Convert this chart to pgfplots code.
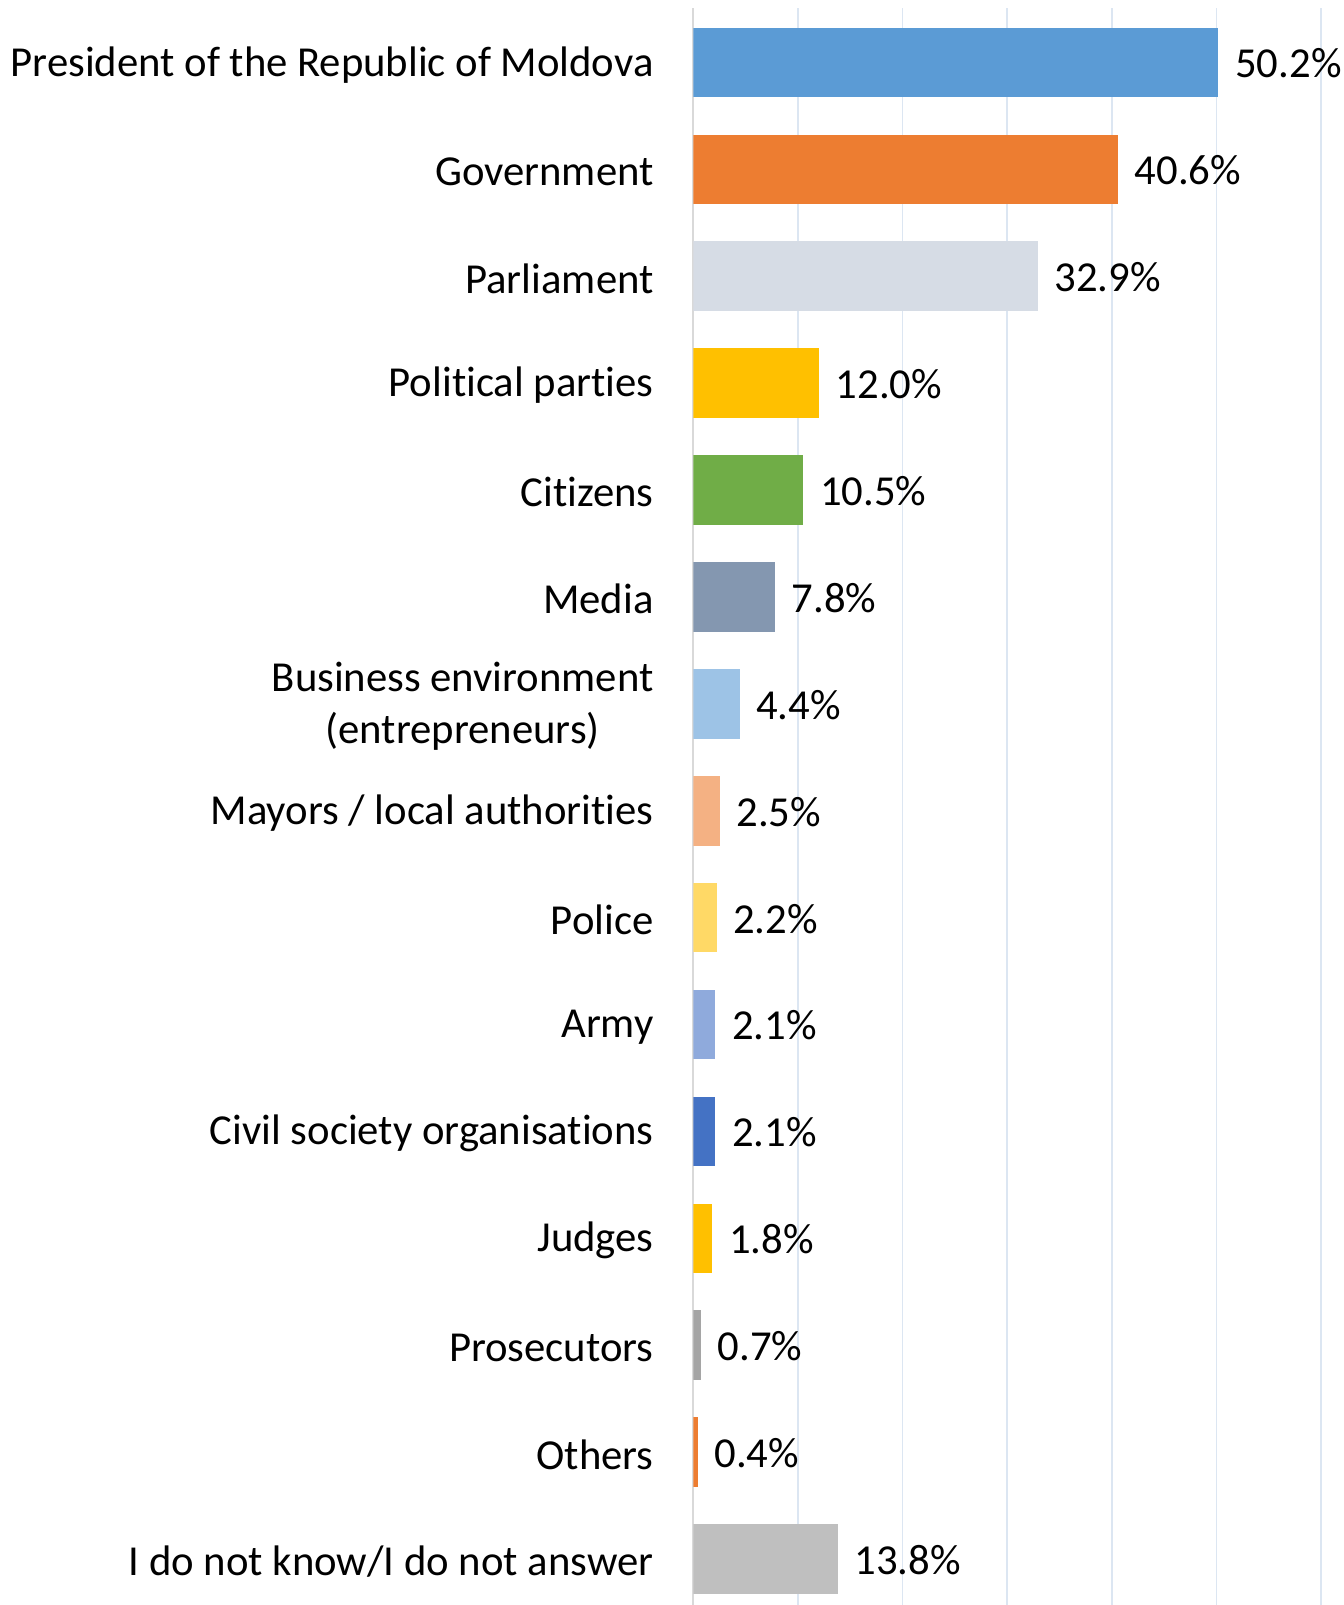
\documentclass[border=0pt]{standalone}
\usepackage{pgfplots}
\pgfplotsset{compat=1.18}
\usepackage{fontspec}
\setmainfont[Ligatures=NoCommon]{Carlito}
\definecolor{c1}{HTML}{5B9BD5}
\definecolor{c2}{HTML}{ED7D31}
\definecolor{c3}{HTML}{D6DCE5}
\definecolor{c4}{HTML}{FFC000}
\definecolor{c5}{HTML}{70AD47}
\definecolor{c6}{HTML}{8497B0}
\definecolor{c7}{HTML}{9DC3E6}
\definecolor{c8}{HTML}{F4B183}
\definecolor{c9}{HTML}{FFD966}
\definecolor{c10}{HTML}{8FAADC}
\definecolor{c11}{HTML}{4472C4}
\definecolor{c12}{HTML}{FFC000}
\definecolor{c13}{HTML}{A5A5A5}
\definecolor{c14}{HTML}{ED7D31}
\definecolor{c15}{HTML}{BFBFBF}
\definecolor{gridc}{HTML}{DCE6F2}
\definecolor{axc}{HTML}{D9D9D9}
\newcommand{\lblfont}{\fontsize{21.35}{26}\selectfont}
\begin{document}
\begin{tikzpicture}
\begin{axis}[
  scale only axis, width=313.75pt, height=798.4pt,
  xmin=0, xmax=60, ymin=-0.507, ymax=14.43, y dir=reverse,
  xbar, bar width=0.651, bar shift=0pt,
  axis line style={draw=none},
  xtick={10,20,30,40,50,60}, xticklabels={},
  xmajorgrids, grid style={color=gridc, line width=0.75pt},
  ytick={0,...,14},
  yticklabels={President of the Republic of Moldova, Government, Parliament, Political parties, Citizens, Media, {Business environment\\(entrepreneurs)}, Mayors / local authorities, Police, Army, Civil society organisations, Judges, Prosecutors, Others, I do not know/I do not answer},
  major tick length=0pt,
  yticklabel style={font=\lblfont, inner sep=0pt, xshift=-19.75pt, yshift=-1.2pt, align=center},
  extra x ticks={0}, extra x tick labels={},
  extra x tick style={grid style={color=axc, line width=1pt}},
  nodes near coords={\pgfmathprintnumber{\pgfplotspointmeta}\%},
  nodes near coords style={font=\lblfont, anchor=west, inner sep=0pt, xshift=8.2pt, yshift=-0.5pt},
  /pgf/number format/.cd, fixed, fixed zerofill, precision=1, assume math mode=true,
]
\addplot[fill=c1, draw=none] coordinates {(50.2,0)};
\addplot[fill=c2, draw=none] coordinates {(40.6,1)};
\addplot[fill=c3, draw=none] coordinates {(32.9,2)};
\addplot[fill=c4, draw=none] coordinates {(12.0,3)};
\addplot[fill=c5, draw=none] coordinates {(10.5,4)};
\addplot[fill=c6, draw=none] coordinates {(7.8,5)};
\addplot[fill=c7, draw=none] coordinates {(4.4,6)};
\addplot[fill=c8, draw=none] coordinates {(2.5,7)};
\addplot[fill=c9, draw=none] coordinates {(2.2,8)};
\addplot[fill=c10, draw=none] coordinates {(2.1,9)};
\addplot[fill=c11, draw=none] coordinates {(2.1,10)};
\addplot[fill=c12, draw=none] coordinates {(1.8,11)};
\addplot[fill=c13, draw=none] coordinates {(0.7,12)};
\addplot[fill=c14, draw=none] coordinates {(0.4,13)};
\addplot[fill=c15, draw=none] coordinates {(13.8,14)};
\coordinate (TL) at (axis cs:0,-0.507);
\coordinate (BL) at (axis cs:0,14.43);
\end{axis}
\pgfresetboundingbox
\path ([xshift=-346.75pt,yshift=4.1pt]TL) rectangle ([xshift=324.75pt]BL);
\end{tikzpicture}
\end{document}
